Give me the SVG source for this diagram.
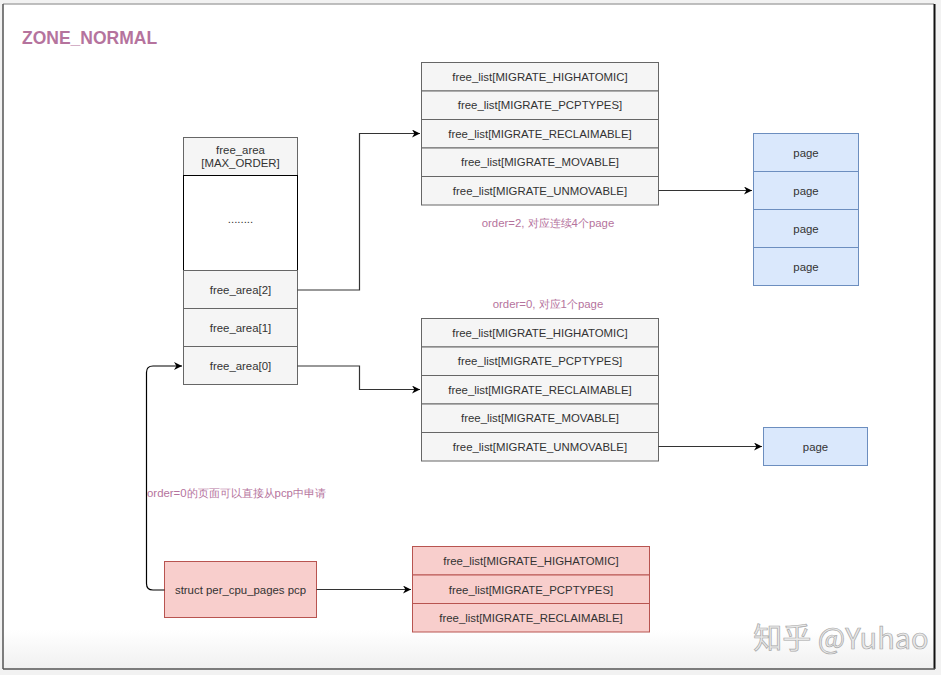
<svg xmlns="http://www.w3.org/2000/svg" width="941" height="675" viewBox="0 0 941 675">
<defs>
<marker id="arr" viewBox="0 0 10 10" refX="10" refY="5" markerWidth="8" markerHeight="8" markerUnits="userSpaceOnUse" orient="auto">
<path d="M0,0 L10,5 L0,10 L3,5 Z" fill="#000"/>
</marker>
<linearGradient id="shade" x1="0" y1="0" x2="0" y2="1">
<stop offset="0" stop-color="#ffffff"/>
<stop offset="1" stop-color="#f0f0f0"/>
</linearGradient>
</defs>
<style>
text{font-family:"Liberation Sans",Arial,sans-serif;font-size:11.4px;fill:#333;text-anchor:middle;dominant-baseline:central}
.g{fill:#f5f5f5;stroke:#666;stroke-width:1}
.w{fill:#fff;stroke:#000;stroke-width:1}
.b{fill:#dae8fc;stroke:#6c8ebf;stroke-width:1}
.r{fill:#f8cecc;stroke:#b85450;stroke-width:1}
.lbl{fill:#B5739D;font-size:11.4px}
.c{fill:none;stroke:#333;stroke-width:1.2}
.cc{fill:none;stroke:#000;stroke-width:1.2}
</style>
<rect x="0" y="0" width="941" height="675" fill="#f2f2f2"/>
<rect x="3" y="4" width="931" height="665" fill="#fff"/>
<rect x="3" y="630" width="931" height="39" fill="url(#shade)"/>
<line x1="3" y1="4" x2="934" y2="4" stroke="#aaa" stroke-width="1.5"/>
<line x1="3" y1="4" x2="3" y2="669" stroke="#555" stroke-width="1.5"/>
<line x1="934.5" y1="4" x2="934.5" y2="669" stroke="#111" stroke-width="2"/>
<line x1="3" y1="669" x2="935" y2="669" stroke="#555" stroke-width="1.5"/>

<text x="22" y="38" style="font-size:17.5px;font-weight:bold;fill:#B5739D;text-anchor:start">ZONE_NORMAL</text>

<g id="free_area">
<rect class="g" x="183.5" y="137.5" width="114" height="38"/>
<text x="240.5" y="150">free_area</text>
<text x="240.5" y="163">[MAX_ORDER]</text>
<rect class="w" x="183.5" y="175.5" width="114" height="95"/>
<text x="240.5" y="219">........</text>
<rect class="g" x="183.5" y="270.5" width="114" height="38"/>
<text x="240.5" y="290">free_area[2]</text>
<rect class="g" x="183.5" y="308.5" width="114" height="38"/>
<text x="240.5" y="328">free_area[1]</text>
<rect class="g" x="183.5" y="346.5" width="114" height="38"/>
<text x="240.5" y="366">free_area[0]</text>
</g>

<g id="list_order2">
<rect class="g" x="421.5" y="62.5" width="237" height="28.5"/>
<text x="540" y="76.5">free_list[MIGRATE_HIGHATOMIC]</text>
<rect class="g" x="421.5" y="91" width="237" height="28.5"/>
<text x="540" y="105">free_list[MIGRATE_PCPTYPES]</text>
<rect class="g" x="421.5" y="119.5" width="237" height="28.5"/>
<text x="540" y="133.5">free_list[MIGRATE_RECLAIMABLE]</text>
<rect class="g" x="421.5" y="148" width="237" height="28.5"/>
<text x="540" y="162">free_list[MIGRATE_MOVABLE]</text>
<rect class="g" x="421.5" y="176.5" width="237" height="28.5"/>
<text x="540" y="190.5">free_list[MIGRATE_UNMOVABLE]</text>
</g>
<text class="lbl" x="548" y="223">order=2, 对应连续4个page</text>

<g id="pages4">
<rect class="b" x="753.5" y="133.5" width="105" height="38"/>
<text x="806" y="152.5">page</text>
<rect class="b" x="753.5" y="171.5" width="105" height="38"/>
<text x="806" y="190.5">page</text>
<rect class="b" x="753.5" y="209.5" width="105" height="38"/>
<text x="806" y="228.5">page</text>
<rect class="b" x="753.5" y="247.5" width="105" height="38"/>
<text x="806" y="266.5">page</text>
</g>

<text class="lbl" x="548" y="304">order=0, 对应1个page</text>
<g id="list_order0">
<rect class="g" x="421.5" y="318.5" width="237" height="28.5"/>
<text x="540" y="333">free_list[MIGRATE_HIGHATOMIC]</text>
<rect class="g" x="421.5" y="347" width="237" height="28.5"/>
<text x="540" y="361">free_list[MIGRATE_PCPTYPES]</text>
<rect class="g" x="421.5" y="375.5" width="237" height="28.5"/>
<text x="540" y="389.5">free_list[MIGRATE_RECLAIMABLE]</text>
<rect class="g" x="421.5" y="404" width="237" height="28.5"/>
<text x="540" y="418">free_list[MIGRATE_MOVABLE]</text>
<rect class="g" x="421.5" y="432.5" width="237" height="28.5"/>
<text x="540" y="446.5">free_list[MIGRATE_UNMOVABLE]</text>
</g>

<g id="page1">
<rect class="b" x="763.5" y="427.5" width="104" height="38"/>
<text x="815.5" y="446.5">page</text>
</g>

<g id="pcp">
<rect class="r" x="164.5" y="561.5" width="152" height="56"/>
<text x="240.5" y="589.5">struct per_cpu_pages pcp</text>
</g>

<g id="pcp_list">
<rect class="r" x="412.5" y="546.5" width="237" height="28.5"/>
<text x="531" y="561">free_list[MIGRATE_HIGHATOMIC]</text>
<rect class="r" x="412.5" y="575" width="237" height="28.5"/>
<text x="531" y="589.5">free_list[MIGRATE_PCPTYPES]</text>
<rect class="r" x="412.5" y="603.5" width="237" height="28.5"/>
<text x="531" y="618">free_list[MIGRATE_RECLAIMABLE]</text>
</g>

<text class="lbl" x="147" y="493" style="text-anchor:start">order=0的页面可以直接从pcp中申请</text>

<g id="connectors">
<path class="c" d="M297.5,290 H359.5 V133.5 H420" marker-end="url(#arr)"/>
<path class="c" d="M658.5,190.5 H752" marker-end="url(#arr)"/>
<path class="c" d="M297.5,366 H359.5 V389.5 H420" marker-end="url(#arr)"/>
<path class="c" d="M658.5,446.5 H762" marker-end="url(#arr)"/>
<path class="c" d="M316.5,589.5 H411" marker-end="url(#arr)"/>
<path class="cc" d="M164.5,590 H153 Q146.5,590 146.5,583.5 V372.5 Q146.5,366 153,366 H182" marker-end="url(#arr)"/>
</g>

<text x="841" y="636" style="font-family:'Noto Sans CJK SC','Noto Sans',sans-serif;font-size:29px;fill:#e8e8e8;stroke:#a8a8a8;stroke-width:0.7">知乎 @Yuhao</text>
</svg>
